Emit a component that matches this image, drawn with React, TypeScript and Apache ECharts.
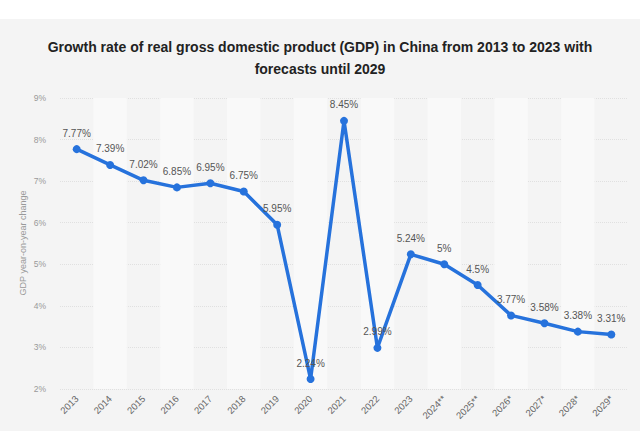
import React, { useEffect, useRef } from "react";
import * as echarts from "echarts";

const years = ["2013", "2014", "2015", "2016", "2017", "2018", "2019", "2020", "2021", "2022", "2023", "2024**", "2025**", "2026*", "2027*", "2028*", "2029*"];
const growth = [7.77, 7.39, 7.02, 6.85, 6.95, 6.75, 5.95, 2.24, 8.45, 2.99, 5.24, 5, 4.5, 3.77, 3.58, 3.38, 3.31];
const yTicks = { min: 2, max: 9, interval: 1 };
const titleText = "Growth rate of real gross domestic product (GDP) in China from 2013 to 2023 with\nforecasts until 2029";
const yAxisName = "GDP year-on-year change";

export default function App() {
  const ref = useRef<HTMLDivElement>(null);
  useEffect(() => {
    document.body.style.margin = "0";
    const chart = echarts.init(ref.current!, null, { renderer: "svg" });
    chart.setOption({
      animation: false,
      backgroundColor: "#f4f4f4",
      graphic: [
        { type: "rect", left: 0, top: 0, shape: { width: 640, height: 19 }, style: { fill: "#ffffff" }, z: -1 },
        {
          type: "text",
          x: 23,
          y: 243,
          rotation: Math.PI / 2,
          style: {
            text: yAxisName,
            fill: "#999",
            fontSize: 9,
            fontFamily: "Liberation Sans, Arial, sans-serif",
            align: "center",
            verticalAlign: "middle",
          },
        },
      ],
      title: {
        text: titleText,
        left: "center",
        top: 31,
        textStyle: {
          fontFamily: "Liberation Sans, Arial, sans-serif",
          fontSize: 14,
          fontWeight: "bold",
          color: "#222",
          lineHeight: 22,
        },
      },
      grid: { left: 60, right: 12, top: 98, bottom: 42 },
      xAxis: {
        type: "category",
        data: years,
        boundaryGap: true,
        axisLine: { show: false },
        axisTick: { show: false },
        axisLabel: {
          rotate: 45,
          fontSize: 9.5,
          color: "#666",
          fontFamily: "Liberation Sans, Arial, sans-serif",
          margin: 8,
        },
        splitArea: { show: true, areaStyle: { color: ["rgba(0,0,0,0)", "#f9f9f9"] } },
      },
      yAxis: {
        type: "value",
        min: yTicks.min,
        max: yTicks.max,
        interval: yTicks.interval,
        axisLine: { show: false },
        axisTick: { show: false },
        axisLabel: {
          formatter: "{value}%",
          fontSize: 8.5,
          color: "#999",
          margin: 14,
          fontFamily: "Liberation Sans, Arial, sans-serif",
        },
        splitLine: { lineStyle: { color: "#e0e0e0", type: "dotted", width: 1 } },
      },
      series: [
        {
          type: "line",
          data: growth,
          color: "#2672dc",
          lineStyle: { width: 3.5, color: "#2672dc" },
          symbol: "circle",
          symbolSize: 8,
          itemStyle: { color: "#2672dc" },
          label: {
            show: true,
            position: "top",
            distance: 7,
            formatter: (p: any) => `${p.value}%`,
            fontSize: 10,
            color: "#555",
            fontFamily: "Liberation Sans, Arial, sans-serif",
          },
        },
      ],
    });
    return () => chart.dispose();
  }, []);
  return <div ref={ref} style={{ width: 640, height: 431 }} />;
}
